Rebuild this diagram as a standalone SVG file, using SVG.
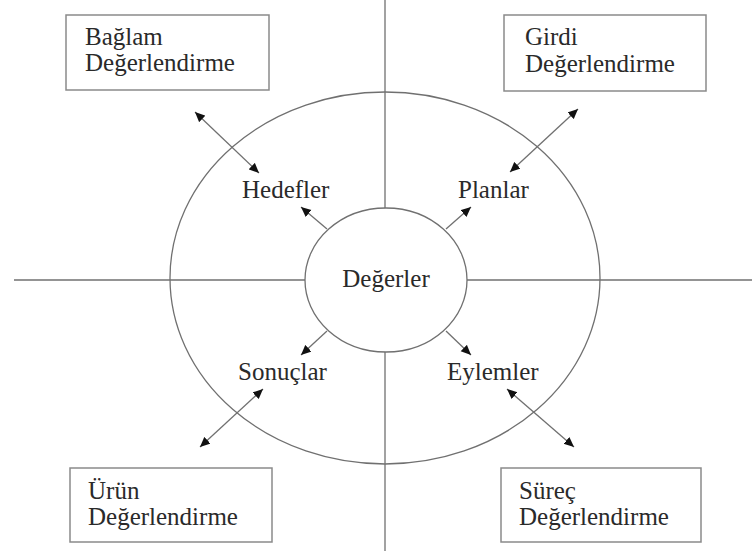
<svg xmlns="http://www.w3.org/2000/svg" width="752" height="551" viewBox="0 0 752 551">
<style>
.ln{stroke:#707070;stroke-width:1.3;fill:none}
.bx{fill:#fff;stroke:#8a8a8a;stroke-width:1.5}
.t{font-family:"Liberation Serif","Times New Roman",serif;font-size:25px;fill:#2a2a2a}
.c{font-family:"Liberation Serif","Times New Roman",serif;font-size:25px;fill:#2a2a2a}
.a{stroke:#707070;stroke-width:1.3;fill:none;marker-end:url(#ah)}
.d{stroke:#707070;stroke-width:1.3;fill:none;marker-start:url(#ah);marker-end:url(#ah)}
</style>
<defs>
<marker id="ah" viewBox="0 0 10 10" refX="10" refY="5" markerWidth="10" markerHeight="10" markerUnits="userSpaceOnUse" orient="auto-start-reverse">
<path d="M0,0.5 L10,5 L0,9.5 Z" fill="#111"/>
</marker>
</defs>
<rect width="752" height="551" fill="#fff"/>
<g id="axes">
<line class="ln" x1="14" y1="280" x2="305" y2="280"/>
<line class="ln" x1="467" y1="280" x2="752" y2="280"/>
<line class="ln" x1="385" y1="0" x2="385" y2="208"/>
<line class="ln" x1="385" y1="352" x2="385" y2="551"/>
</g>
<g id="outer">
<ellipse class="ln" cx="385" cy="278" rx="215" ry="186"/>
</g>
<g id="degerler">
<ellipse class="ln" cx="386" cy="280" rx="81" ry="72"/>
<text class="c" x="386" y="287" text-anchor="middle">Değerler</text>
</g>
<g id="baglam">
<rect class="bx" x="66" y="15" width="203" height="75"/>
<text class="t" x="85" y="45">Bağlam</text>
<text class="t" x="85" y="71">Değerlendirme</text>
</g>
<g id="girdi">
<rect class="bx" x="504" y="15" width="202" height="76"/>
<text class="t" x="525" y="45">Girdi</text>
<text class="t" x="525" y="72">Değerlendirme</text>
</g>
<g id="urun">
<rect class="bx" x="70" y="468" width="202" height="74"/>
<text class="t" x="88" y="499">Ürün</text>
<text class="t" x="88" y="525">Değerlendirme</text>
</g>
<g id="surec">
<rect class="bx" x="501" y="468" width="200" height="74"/>
<text class="t" x="519" y="499">Süreç</text>
<text class="t" x="519" y="525">Değerlendirme</text>
</g>
<g id="hedefler"><text class="c" x="242" y="198">Hedefler</text></g>
<g id="planlar"><text class="c" x="458" y="198">Planlar</text></g>
<g id="sonuclar"><text class="c" x="238" y="380">Sonuçlar</text></g>
<g id="eylemler"><text class="c" x="447" y="380">Eylemler</text></g>
<g id="connectors">
<line class="a" x1="327" y1="229" x2="301" y2="207"/>
<line class="a" x1="446" y1="229" x2="471" y2="207"/>
<line class="a" x1="327" y1="331" x2="301" y2="355"/>
<line class="a" x1="446" y1="331" x2="471" y2="355"/>
<line class="d" x1="195" y1="112" x2="259" y2="173"/>
<line class="d" x1="510" y1="172" x2="578" y2="109"/>
<line class="d" x1="263" y1="389" x2="200" y2="447"/>
<line class="d" x1="507" y1="389" x2="574" y2="447"/>
</g>
</svg>
